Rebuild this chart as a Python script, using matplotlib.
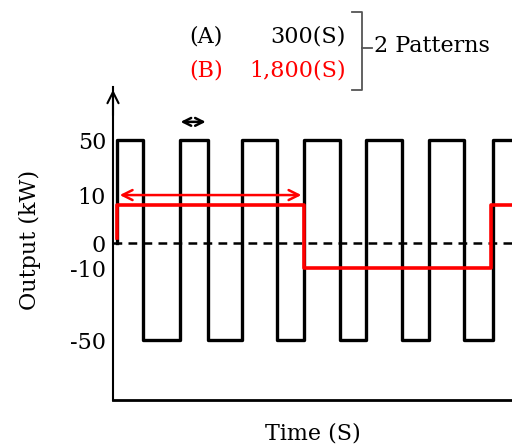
import numpy as np
import matplotlib
matplotlib.use("Agg")
import matplotlib.pyplot as plt
from matplotlib.lines import Line2D

# data (schematic, seconds / kW)
pattern_a_times = [0, 0, 250, 610, 875, 1200, 1540, 1800, 2145, 2395, 2740, 3000, 3335, 3615, 3900]
pattern_a_levels = [0, 50, -50, 50, -50, 50, -50, 50, -50, 50, -50, 50, -50, 50, 50]
pattern_b_times = [0, 0, 1800, 3600, 3900]
pattern_b_levels = [1, 8, -10, 8, 8]
ytick_values = [50, 10, 0, -10, -50]
ytick_labels = ["50", "10", "0", "-10", "-50"]

# the y axis of the drawing is not linear: piecewise mapping value -> height
knot_vals = np.array([-100, -50, -10, 0, 10, 50, 100])
knot_pix = np.array([430, 340, 268, 243, 195, 140, 70])


def fwd(v):
    return -np.interp(v, knot_vals, knot_pix)


def inv(u):
    return np.interp(u, -knot_pix[::-1], knot_vals[::-1])


W, H = 512, 447
fig = plt.figure(figsize=(W / 100, H / 100), dpi=100)
plt.rcParams['font.family'] = ['DejaVu Serif']
FS = 16

left, right, top, bottom = 113, 512, 87, 400
ax = fig.add_axes([left / W, 1 - bottom / H, (right - left) / W, (bottom - top) / H])
ax.set_yscale('function', functions=(fwd, inv))
ax.set_xlim(-38, 3798)
ax.set_ylim(-83.3, 87.9)

ax.axhline(0, color='black', lw=1.8, ls=(0, (3.5, 2.5)), zorder=1)
ax.step(pattern_a_times, pattern_a_levels, where='post', color='black', lw=2.4, zorder=2)
ax.step(pattern_b_times, pattern_b_levels, where='post', color='#ff0000', lw=2.6, zorder=3)

# span arrows
ax.annotate('', xy=(0, 10), xytext=(1800, 10),
            arrowprops=dict(arrowstyle='<->', color='#ff0000', lw=1.8, mutation_scale=18))
ax.annotate('', xy=(585, 63), xytext=(880, 63),
            arrowprops=dict(arrowstyle='<->', color='black', lw=1.8, mutation_scale=14))

for s in ['top', 'right']:
    ax.spines[s].set_visible(False)
ax.spines['left'].set_linewidth(1.5)
ax.spines['bottom'].set_linewidth(2)
ax.annotate('', xy=(0, 1.0), xytext=(0, 0.9), xycoords='axes fraction',
            arrowprops=dict(arrowstyle='->', color='black', lw=1.5, mutation_scale=20))

ax.set_xticks([])
ax.set_yticks(ytick_values)
ax.set_yticklabels(ytick_labels, fontsize=FS)
ax.tick_params(axis='y', length=0, pad=5)
ax.yaxis.set_minor_locator(matplotlib.ticker.NullLocator())

ax.set_xlabel('Time (S)', fontsize=FS, labelpad=16)
ax.set_ylabel('Output (kW)', fontsize=FS)
ax.yaxis.set_label_coords(-0.18, 0.51)

# legend-like text at top
def fx(px):
    return px / W


def fy(py):
    return 1 - py / H


fig.text(fx(189), fy(37), '(A)', fontsize=FS, va='center', ha='left')
fig.text(fx(346), fy(37), '300(S)', fontsize=FS, va='center', ha='right')
fig.text(fx(189), fy(70), '(B)', fontsize=FS, va='center', ha='left', color='#ff0000')
fig.text(fx(346), fy(70), '1,800(S)', fontsize=FS, va='center', ha='right', color='#ff0000')
fig.text(fx(374), fy(46), '2 Patterns', fontsize=FS, va='center', ha='left')

brace_x = [fx(352), fx(362), fx(362), fx(352)]
brace_y = [fy(12), fy(12), fy(90), fy(90)]
fig.add_artist(Line2D(brace_x, brace_y, color='#555555', lw=1.3))
fig.add_artist(Line2D([fx(362), fx(372)], [fy(48), fy(48)], color='#555555', lw=1.3))

fig.savefig('out.png', dpi=100)
